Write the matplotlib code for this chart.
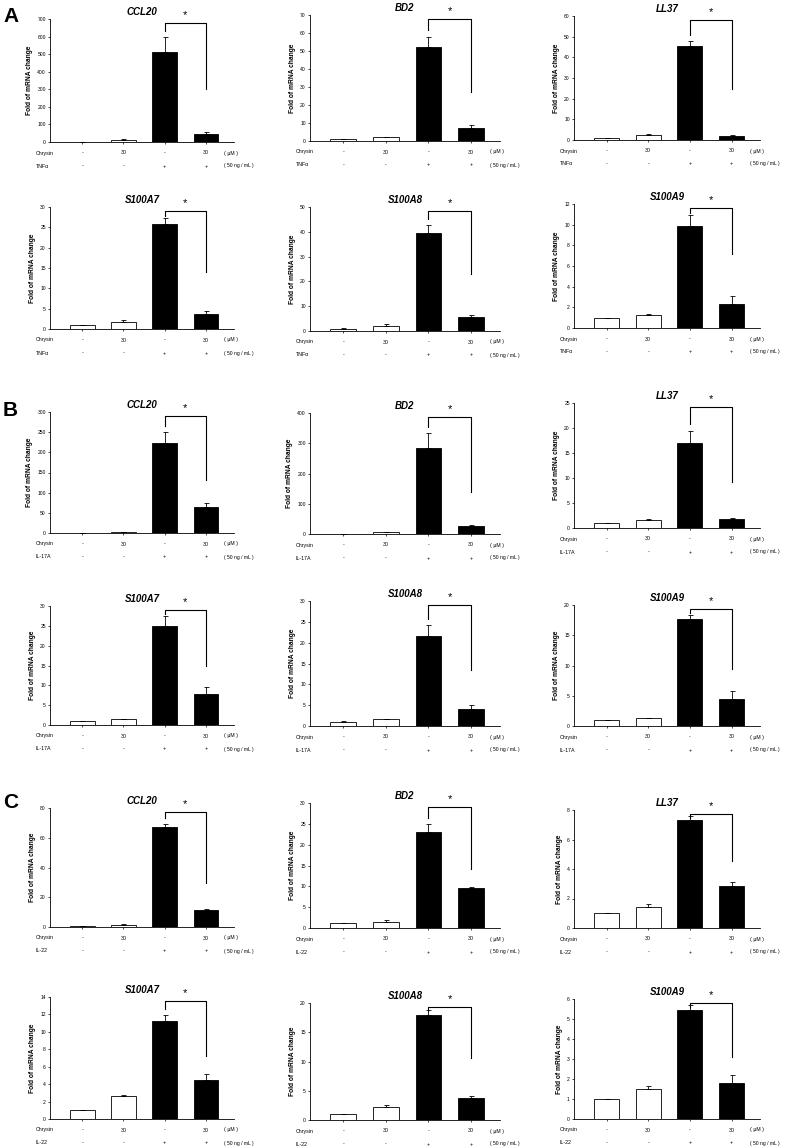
import matplotlib
matplotlib.use("Agg")
import matplotlib.pyplot as plt
import numpy as np

plt.rcParams['font.family'] = ['Liberation Sans', 'DejaVu Sans']

W, H = 786, 1148

genes = ["CCL20", "BD2", "LL37", "S100A7", "S100A8", "S100A9"]
stimuli = ["TNF\u03b1", "IL-17A", "IL-22"]
panel_letters = ["A", "B", "C"]
chrysin_labels = ["-", "30", "-", "30"]
stim_labels = ["-", "-", "+", "+"]
chrysin_unit = "( \u03bcM )"
stim_unit = "( 50 ng / mL )"
bar_colors = ["white", "white", "black", "black"]

# TNFa panel (A)
A_means = [[1, 12, 515, 45], [1, 2, 52, 7], [1, 2.5, 45.5, 2],
           [1, 1.6, 25.7, 3.8], [1, 2.2, 39.5, 5.8], [1, 1.25, 9.9, 2.35]]
A_errs = [[0, 5, 80, 12], [0.2, 0.5, 6, 2], [0.1, 0.5, 2.5, 0.5],
          [0.1, 0.5, 1.5, 0.6], [0.1, 0.6, 3.3, 0.5], [0, 0.15, 1.0, 0.75]]
A_ymax = [700, 70, 60, 30, 50, 12]
A_step = [100, 10, 10, 5, 10, 2]

# IL-17A panel (B)
B_means = [[1, 2, 224, 64], [1, 5, 285, 25], [1, 1.6, 17.1, 1.75],
           [1, 1.5, 25, 7.8], [1, 1.6, 21.7, 4.1], [1, 1.25, 17.7, 4.4]]
B_errs = [[0, 0.5, 27, 11], [0.5, 1, 50, 4], [0, 0.2, 2.4, 0.2],
          [0.1, 0.1, 2.6, 1.7], [0.1, 0.2, 2.5, 1.0], [0, 0.1, 0.7, 1.4]]
B_ymax = [300, 400, 25, 30, 30, 20]
B_step = [50, 100, 5, 5, 5, 5]

# IL-22 panel (C)
C_means = [[0.8, 1.5, 67.5, 11.5], [1.1, 1.5, 23, 9.5], [1, 1.45, 7.3, 2.85],
           [1, 2.65, 11.3, 4.45], [1, 2.2, 18, 3.8], [1, 1.52, 5.45, 1.8]]
C_errs = [[0, 0.3, 1.5, 0.5], [0.1, 0.5, 2, 0.3], [0, 0.15, 0.3, 0.3],
          [0, 0.15, 0.6, 0.7], [0, 0.4, 0.8, 0.35], [0, 0.15, 0.25, 0.38]]
C_ymax = [80, 30, 8, 14, 20, 6]
C_step = [20, 5, 2, 2, 5, 1]

# right-leg bottom of significance bracket as fraction of ymax
bracket_right = [[0.43, 0.39, 0.41, 0.47, 0.46, 0.60],
                 [0.44, 0.35, 0.37, 0.50, 0.45, 0.47],
                 [0.37, 0.47, 0.57, 0.52, 0.53, 0.52]]

all_means = [A_means, B_means, C_means]
all_errs = [A_errs, B_errs, C_errs]
all_ymax = [A_ymax, B_ymax, C_ymax]
all_step = [A_step, B_step, C_step]

# layout (pixels)
col_lr = [(50, 234), (310, 500), (574, 760)]
row_tb = [[(19, 142), (15, 141), (16, 140)],
          [(207, 329), (207, 331), (204, 328)],
          [(412, 533), (413, 534), (403, 528)],
          [(606, 725), (601, 726), (605, 726)],
          [(808, 927), (803, 928), (810, 928)],
          [(997, 1119), (1003, 1120), (999, 1119)]]
letter_y = [17, 410, 803]

fig = plt.figure(figsize=(W / 100, H / 100), dpi=100)

def fx(x):
    return x / W

def fy(y):
    return 1 - y / H

xpos = np.arange(1, 5)
for p in range(3):
    fig.text(fx(3), fy(letter_y[p]), panel_letters[p], fontsize=15,
             fontweight='bold', ha='left', va='center')
    for g in range(6):
        r = p * 2 + g // 3
        c = g % 3
        l, rr = col_lr[c]
        t, b = row_tb[r][c]
        ax = fig.add_axes([fx(l), fy(b), (rr - l) / W, (b - t) / H])
        means = all_means[p][g]
        errs = all_errs[p][g]
        ymax = all_ymax[p][g]
        step = all_step[p][g]
        ax.bar(xpos, means, width=0.6, color=bar_colors, edgecolor='black',
               linewidth=0.6, zorder=2)
        ax.errorbar(xpos, means, yerr=[np.zeros(4), errs], fmt='none',
                    ecolor='black', elinewidth=0.6, capsize=1.8,
                    capthick=0.6, zorder=3)
        ax.set_xlim(0.22, 4.68)
        ax.set_ylim(0, ymax)
        ax.set_yticks(np.arange(0, ymax + step / 2, step))
        ax.set_xticks(xpos)
        ax.set_xticklabels([])
        ax.tick_params(axis='y', labelsize=3.6, length=1.5, width=0.5, pad=1.5)
        ax.tick_params(axis='x', length=1.2, width=0.5)
        for s in ['top', 'right']:
            ax.spines[s].set_visible(False)
        for s in ['left', 'bottom']:
            ax.spines[s].set_linewidth(0.6)
        ax.set_ylabel("Fold of mRNA change", fontsize=4.8, fontweight='bold',
                      labelpad=3)
        # significance bracket
        htop = 0.97 * ymax
        lbot = min(means[2] + errs[2] + 0.05 * ymax, 0.93 * ymax)
        rbot = bracket_right[p][g] * ymax
        ax.plot([3, 3, 4, 4], [lbot, htop, htop, rbot], color='black',
                lw=0.8, clip_on=False, zorder=4)
        ax.text(3.5, htop + 0.02 * ymax, "*", ha='center', va='bottom',
                fontsize=8, clip_on=False)
        ax.set_title(genes[g], fontsize=7, fontweight='bold', style='italic',
                     pad=3)
        # condition rows
        y1 = b + 11
        y2 = b + 24
        fig.text(fx(l - 14), fy(y1), "Chrysin", fontsize=3.8, ha='left',
                 va='center')
        fig.text(fx(l - 14), fy(y2), stimuli[p], fontsize=3.8, ha='left',
                 va='center')
        for i in range(4):
            xd = ax.transData.transform((xpos[i], 0))[0]
            fig.text(xd / W, fy(y1), chrysin_labels[i], fontsize=3.8,
                     ha='center', va='center')
            fig.text(xd / W, fy(y2), stim_labels[i], fontsize=3.8,
                     ha='center', va='center')
        fig.text(fx(rr - 10), fy(y1), chrysin_unit, fontsize=3.8, ha='left',
                 va='center')
        fig.text(fx(rr - 10), fy(y2), stim_unit, fontsize=3.6, ha='left',
                 va='center')

fig.savefig("out.png", dpi=100)
